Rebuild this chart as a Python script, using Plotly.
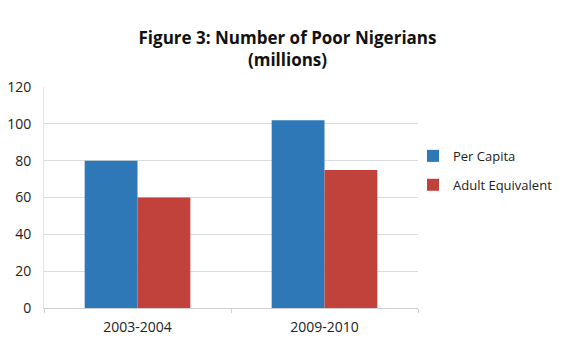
import plotly.graph_objects as go

periods = ["2003-2004", "2009-2010"]
per_capita = [80, 102]
adult_equivalent = [60, 75]
y_ticks = [0, 20, 40, 60, 80, 100, 120]

BLUE = "#2e78b7"
RED = "#c0423a"
FONT = "Open Sans"

fig = go.Figure()
fig.add_trace(go.Bar(x=periods, y=per_capita, name="Per Capita", legendgroup="pc",
                     marker=dict(color=BLUE, line=dict(width=0))))
fig.add_trace(go.Bar(x=periods, y=adult_equivalent, name="Adult Equivalent",
                     legendgroup="ae", marker=dict(color=RED, line=dict(width=0))))

PLOT_L, PLOT_R = 44, 418
plot_w = PLOT_R - PLOT_L

fig.update_layout(
    width=575, height=343,
    margin=dict(l=PLOT_L, r=575 - PLOT_R, t=87, b=35),
    paper_bgcolor="white", plot_bgcolor="white",
    barmode="group", bargap=0.435, bargroupgap=0,
    font=dict(family=FONT, size=14, color="#222"),
    title=dict(text="<b>Figure 3: Number of Poor Nigerians<br>(millions)</b>",
               x=0.5, xanchor="center", y=0.873, yanchor="top",
               font=dict(family=FONT, size=17, color="#111")),
    showlegend=True,
    legend=dict(x=(413 - PLOT_L) / plot_w, y=0.756, xanchor="left", yanchor="top",
                font=dict(family=FONT, size=13, color="#222"),
                tracegroupgap=9, bgcolor="rgba(0,0,0,0)"),
    xaxis=dict(showgrid=False, showline=True, linecolor="#d0d0d0", linewidth=1,
               ticks="outside", tickcolor="#d0d0d0", ticklen=4,
               tickson="boundaries", ticklabelstandoff=6, automargin=False,
               tickfont=dict(size=14, color="#222")),
    yaxis=dict(range=[0, 120], tickvals=y_ticks, showgrid=True,
               gridcolor="#dcdcdc", gridwidth=1, zeroline=False,
               showline=True, linecolor="#e4e4e4", linewidth=1,
               ticks="", ticklabelstandoff=9, automargin=False,
               tickfont=dict(size=14, color="#222")),
)

fig.write_html("out.html")
